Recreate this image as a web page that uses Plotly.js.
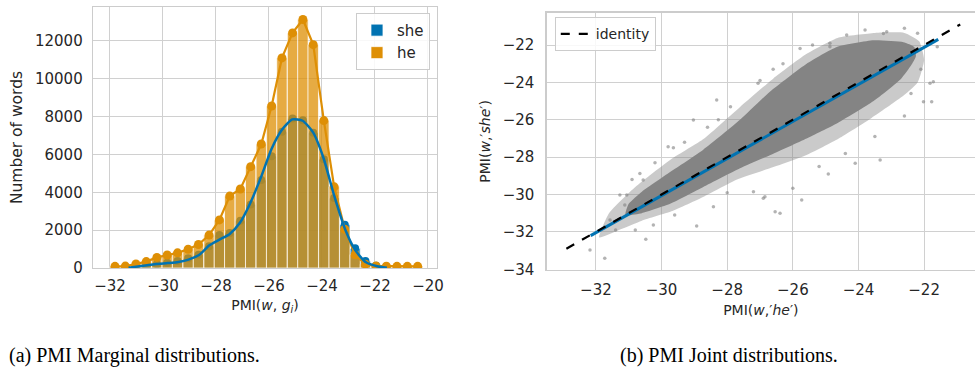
<!DOCTYPE html>
<html>
<head>
<meta charset="utf-8">
<script src="https://cdn.plot.ly/plotly-3.0.1.min.js"></script>
<style>html,body{margin:0;padding:0;background:#fff;}#chart{width:975px;height:368px;}</style>
</head>
<body>
<div id="chart"></div>
<script>
// ---- (a) marginal distributions: histogram bins ----
const binCenters = [-31.81, -31.42, -31.02, -30.63, -30.23, -29.84, -29.45, -29.05, -28.66, -28.26,
                    -27.87, -27.48, -27.08, -26.69, -26.29, -25.90, -25.51, -25.11, -24.72, -24.33,
                    -23.93, -23.54, -23.14, -22.75, -22.36, -21.96, -21.57, -21.17, -20.78, -20.39];
const sheCounts = [10, 30, 60, 130, 200, 280, 370, 520, 700, 1150,
                   1750, 1850, 2500, 3350, 4650, 5900, 7200, 7900, 7800, 7150,
                   5750, 3700, 2290, 1040, 370, 120, 30, 10, 5, 2];
const heCounts = [90, 100, 210, 340, 560, 690, 800, 990, 1240, 1740,
                  2540, 3800, 4175, 5355, 6550, 8560, 11100, 12420, 13130, 11800,
                  7790, 4290, 2050, 700, 200, 110, 95, 90, 90, 90];
// she density curve (scaled to counts)
const sheKdeX = [-31.3, -30.6, -30.24, -29.82, -29.42, -29.04, -28.64, -28.25, -27.87, -27.48,
                 -27.09, -26.7, -26.3, -25.9, -25.51, -25.12, -24.73, -24.33, -23.94, -23.53,
                 -23.12, -22.74, -22.34, -21.92, -21.55];
const sheKdeY = [20, 140, 210, 260, 320, 440, 690, 1200, 1500, 1800,
                 2400, 3450, 4800, 6300, 7300, 7850, 7780, 7150, 5800, 3780,
                 2020, 930, 300, 90, 10];
const xTicksA = [-32, -30, -28, -26, -24, -22, -20];
const yTicksA = [0, 2000, 4000, 6000, 8000, 10000, 12000];

// ---- (b) joint distribution ----
// outline of the solid core of the point cloud
const coreX = [-31.0, -30.6, -29.74, -28.73, -27.61, -26.7, -25.58, -24.66, -23.54, -22.63, -22.3, -22.25, -22.4,
               -22.7, -23.54, -24.66, -25.58, -26.7, -27.61, -28.73, -29.74, -30.6, -31.1, -31.0];
const coreY = [-30.5, -29.85, -28.8, -27.6, -26.0, -24.5, -23.0, -22.1, -21.75, -21.85, -22.1, -22.6, -23.1,
               -23.8, -25.0, -26.2, -27.0, -27.9, -28.6, -29.6, -30.5, -31.0, -31.1, -30.5];
// outline of the sparser halo of the cloud
const haloX = [-31.6, -30.8, -29.7, -28.7, -27.6, -26.6, -25.6, -24.6, -23.5, -22.6, -22.15, -22.0, -22.2,
               -22.7, -23.6, -24.6, -25.6, -26.7, -27.7, -28.7, -29.7, -30.6, -31.3, -31.9, -31.6];
const haloY = [-31.0, -29.6, -28.1, -27.0, -25.3, -23.8, -22.5, -21.6, -21.35, -21.35, -21.8, -22.8, -24.0,
               -24.8, -25.9, -27.0, -27.9, -28.6, -29.2, -30.1, -30.9, -31.4, -31.9, -32.3, -31.0];
// isolated points outside the cloud
const outX = [-31.73, -32.18, -30.48, -28.93, -29.80, -29.64, -28.32, -28.27, -29.03, -30.66,
              -31.27, -31.57, -31.12, -30.25, -28.42, -27.06, -26.90, -26.39, -25.73, -26.00,
              -26.54, -26.85, -27.20, -24.92, -24.10, -23.34, -22.02, -21.77, -21.60, -21.82,
              -21.72, -24.87, -24.36, -23.14, -22.20, -23.24, -25.78, -24.87, -30.56, -31.06,
              -26.60, -27.00, -26.30, -27.90, -28.60, -29.30, -30.20, -30.90, -31.40, -30.80,
              -29.60, -28.00, -25.20, -24.40, -23.50, -22.60, -22.10, -22.40, -25.40, -23.80, -22.60];
const outY = [-33.41, -32.97, -32.40, -31.68, -27.44, -27.50, -24.94, -26.00, -26.01, -28.87,
              -30.03, -31.36, -30.56, -31.63, -30.65, -24.05, -30.20, -31.00, -30.29, -29.67,
              -30.92, -30.12, -29.85, -28.90, -28.33, -28.15, -25.03, -25.03, -22.09, -24.05,
              -23.96, -22.09, -21.46, -21.29, -21.37, -21.38, -22.18, -21.91, -29.22, -30.03,
              -23.30, -23.90, -23.00, -25.30, -26.40, -27.20, -28.30, -29.20, -31.90, -31.90,
              -31.10, -29.90, -28.50, -27.80, -26.90, -25.80, -23.30, -24.60, -22.00, -21.20, -21.10];
const fitX = [-32.16, -21.57];
const fitY = [-32.20, -21.70];
const identX = [-32.9, -20.9];
const identY = [-32.9, -20.9];
const xTicksB = [-32, -30, -28, -26, -24, -22];
const yTicksB = [-34, -32, -30, -28, -26, -24, -22];

const BLUE = '#0173b2', ORANGE = '#de8f05';
const FONT = 'DejaVu Sans, sans-serif';
const TXT = '#262626';
const GRID = '#d0d0d0';
const binW = 0.394;

const traces = [
  {type: 'bar', x: binCenters, y: sheCounts, width: binW, name: 'she', xaxis: 'x', yaxis: 'y',
   marker: {color: BLUE, opacity: 0.75, line: {color: 'rgba(255,255,255,0.75)', width: 1}},
   legend: 'legend', showlegend: true},
  {type: 'scatter', mode: 'markers', x: binCenters, y: sheCounts, xaxis: 'x', yaxis: 'y',
   marker: {color: BLUE, size: 8}, showlegend: false, hoverinfo: 'skip'},
  {type: 'bar', x: binCenters, y: heCounts, width: binW, name: 'he', xaxis: 'x3', yaxis: 'y3',
   marker: {color: ORANGE, opacity: 0.75, line: {color: 'rgba(255,255,255,0.75)', width: 1}},
   legend: 'legend', showlegend: true},
  {type: 'scatter', mode: 'lines+markers', x: binCenters, y: heCounts, xaxis: 'x3', yaxis: 'y3',
   line: {color: ORANGE, width: 2.2}, marker: {color: ORANGE, size: 9}, showlegend: false},
  {type: 'scatter', mode: 'lines', x: sheKdeX, y: sheKdeY, xaxis: 'x3', yaxis: 'y3',
   line: {color: BLUE, width: 2.5, shape: 'spline', smoothing: 0.6}, showlegend: false},

  {type: 'scatter', mode: 'lines', x: haloX, y: haloY, xaxis: 'x2', yaxis: 'y2', fill: 'toself',
   fillcolor: 'rgba(128,128,128,0.42)', line: {width: 0, shape: 'spline', smoothing: 0.5},
   showlegend: false, hoverinfo: 'skip'},
  {type: 'scatter', mode: 'lines', x: coreX, y: coreY, xaxis: 'x2', yaxis: 'y2', fill: 'toself',
   fillcolor: 'rgb(132,132,132)', line: {width: 0, shape: 'spline', smoothing: 0.5},
   showlegend: false, hoverinfo: 'skip'},
  {type: 'scatter', mode: 'markers', x: outX, y: outY, xaxis: 'x2', yaxis: 'y2',
   marker: {color: 'rgba(128,128,128,0.6)', size: 3.5}, showlegend: false},
  {type: 'scatter', mode: 'lines', x: fitX, y: fitY, xaxis: 'x2', yaxis: 'y2',
   line: {color: BLUE, width: 3}, showlegend: false},
  {type: 'scatter', mode: 'lines', x: identX, y: identY, xaxis: 'x2', yaxis: 'y2', name: 'identity',
   line: {color: '#000000', width: 2.2, dash: 'dash'}, legend: 'legend2', showlegend: true}
];

const axBase = {
  showgrid: true, gridcolor: GRID, gridwidth: 1, zeroline: false,
  showline: true, mirror: true, linecolor: '#cccccc', linewidth: 1.3,
  ticks: '', tickfont: {family: FONT, size: 15, color: TXT}
};

const layout = {
  width: 975, height: 368,
  margin: {l: 0, r: 0, t: 0, b: 0},
  paper_bgcolor: '#ffffff', plot_bgcolor: '#ffffff',
  barmode: 'overlay', bargap: 0,
  font: {family: FONT, color: TXT},
  xaxis: Object.assign({}, axBase, {
    domain: [0.0954, 0.4482], range: [-32.64, -19.66], anchor: 'y',
    tickvals: xTicksA, ticklabelstandoff: 4,
    title: {text: 'PMI(<i>w</i>, <i>g<sub>i</sub></i>)', font: {family: FONT, size: 14, color: TXT}, standoff: 6}
  }),
  yaxis: Object.assign({}, axBase, {
    domain: [0.2717, 0.981], range: [0, 13790], anchor: 'x',
    tickvals: yTicksA, tickformat: 'd', ticklabelstandoff: 6,
    title: {text: 'Number of words', font: {family: FONT, size: 15.5, color: TXT}, standoff: 8}
  }),
  xaxis3: {overlaying: 'x', anchor: 'y3', range: [-32.64, -19.66], visible: false},
  yaxis3: {overlaying: 'y', anchor: 'x3', range: [0, 13790], visible: false},
  xaxis2: Object.assign({}, axBase, {
    domain: [0.5607, 1.0], range: [-33.5, -20.45], anchor: 'y2',
    tickvals: xTicksB, ticklabelstandoff: 6,
    title: {text: 'PMI(<i>w</i>,′<i>he</i>′)', font: {family: FONT, size: 14, color: TXT}, standoff: 7}
  }),
  yaxis2: Object.assign({}, axBase, {
    domain: [0.2663, 0.9655], range: [-34.04, -20.27], anchor: 'x2',
    tickvals: yTicksB, ticklabelstandoff: 8,
    title: {text: 'PMI(<i>w</i>,′<i>she</i>′)', font: {family: FONT, size: 14, color: TXT}, standoff: 8}
  }),
  legend: {
    x: 0.441, xanchor: 'right', y: 0.965, yanchor: 'top',
    bgcolor: 'rgba(255,255,255,0.85)', bordercolor: '#cccccc', borderwidth: 1,
    font: {family: FONT, size: 15, color: TXT}, traceorder: 'normal', itemwidth: 30
  },
  legend2: {
    x: 0.569, xanchor: 'left', y: 0.953, yanchor: 'top',
    bgcolor: 'rgba(255,255,255,0.85)', bordercolor: '#cccccc', borderwidth: 1,
    font: {family: FONT, size: 14, color: TXT}, itemwidth: 30
  },
  annotations: [
    {text: '(a) PMI Marginal distributions.', xref: 'paper', yref: 'paper', x: 134.5 / 975, y: 1 - 355 / 368,
     xanchor: 'center', yanchor: 'middle', showarrow: false,
     font: {family: 'Liberation Serif, Times New Roman, serif', size: 20, color: '#000000'}},
    {text: '(b) PMI Joint distributions.', xref: 'paper', yref: 'paper', x: 729 / 975, y: 1 - 355 / 368,
     xanchor: 'center', yanchor: 'middle', showarrow: false,
     font: {family: 'Liberation Serif, Times New Roman, serif', size: 20, color: '#000000'}}
  ]
};

Plotly.newPlot('chart', traces, layout, {displayModeBar: false, staticPlot: true});
</script>
</body>
</html>
